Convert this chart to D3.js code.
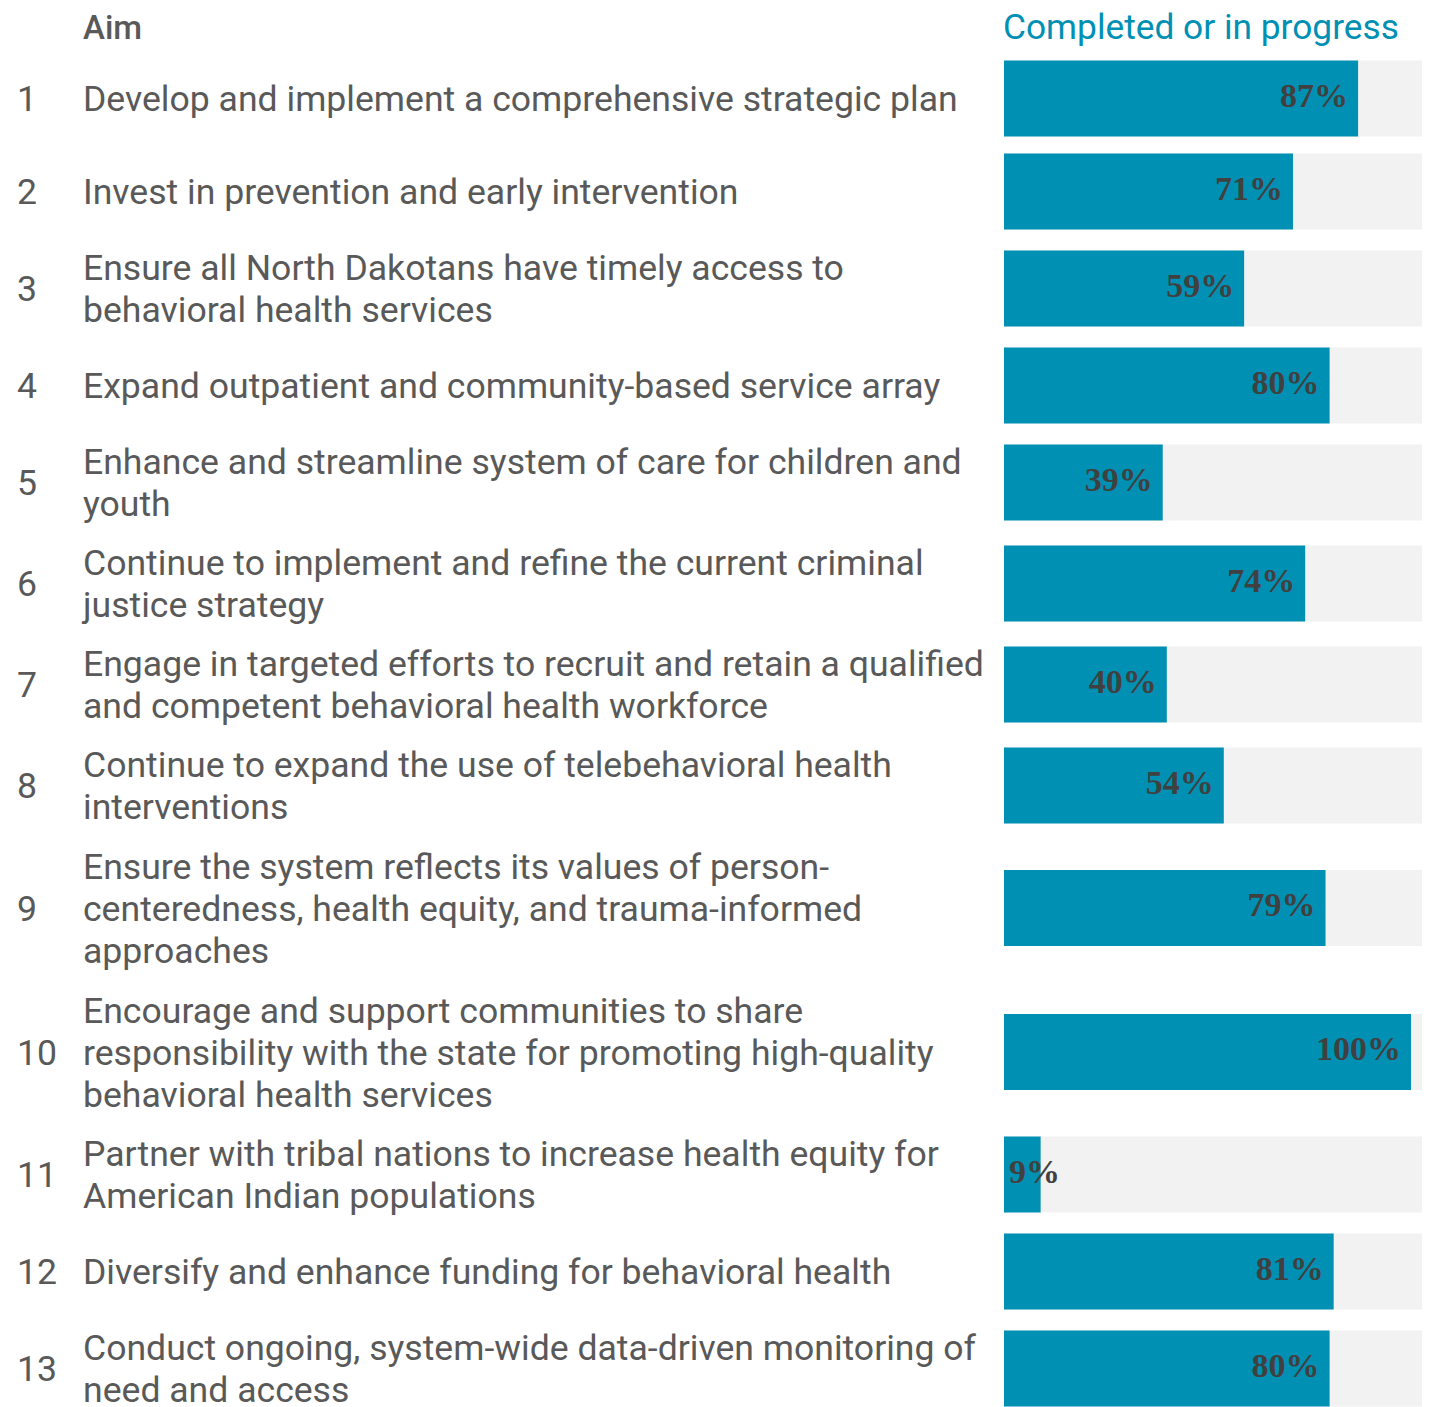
<!DOCTYPE html>
<html>
<head>
<meta charset="utf-8">
<script src="https://cdn.jsdelivr.net/npm/d3@7"></script>
<style>
  body { margin: 0; background: #fff; }
  svg { display: block; }
</style>
</head>
<body>
<div id="chart-container"></div>
<script>
const width = 1431;
const height = 1407;

// ! data
const aimNumbers = ["1", "2", "3", "4", "5", "6", "7", "8", "9", "10", "11", "12", "13"];
const aimLines = [
  ["Develop and implement a comprehensive strategic plan"],
  ["Invest in prevention and early intervention"],
  ["Ensure all North Dakotans have timely access to", "behavioral health services"],
  ["Expand outpatient and community-based service array"],
  ["Enhance and streamline system of care for children and", "youth"],
  ["Continue to implement and refine the current criminal", "justice strategy"],
  ["Engage in targeted efforts to recruit and retain a qualified", "and competent behavioral health workforce"],
  ["Continue to expand the use of telebehavioral health", "interventions"],
  ["Ensure the system reflects its values of person-", "centeredness, health equity, and trauma-informed", "approaches"],
  ["Encourage and support communities to share", "responsibility with the state for promoting high-quality", "behavioral health services"],
  ["Partner with tribal nations to increase health equity for", "American Indian populations"],
  ["Diversify and enhance funding for behavioral health"],
  ["Conduct ongoing, system-wide data-driven monitoring of", "need and access"],
];
const completed = [87, 71, 59, 80, 39, 74, 40, 54, 79, 100, 9, 81, 80];

const textFont = "Roboto, 'Open Sans', sans-serif";
const labelFont = "'Liberation Serif', 'DejaVu Serif', serif";
const textColor = "#595959";
const teal = "#0090b4";

const lineHeight = 42;
const barHeight = 76;
const startY = 52;

// row height depends on how many lines the aim wraps into
const rowHeight = (n) => (n === 1 ? 93 : n === 2 ? 101 : 144);
const rows = [];
let cursor = startY;
aimLines.forEach((lines, i) => {
  const h = rowHeight(lines.length);
  rows.push({ num: aimNumbers[i], lines, value: completed[i], y: cursor + h / 2 });
  cursor += h;
});

const x = d3.scaleLinear().domain([0, 100]).range([1004, 1411]);
const bgRight = 1422;

const svg = d3
  .select("#chart-container")
  .append("svg")
  .attr("width", width)
  .attr("height", height);

// headers
svg.append("text")
  .attr("x", 83)
  .attr("y", 39)
  .attr("font-family", textFont)
  .attr("font-weight", 500)
  .attr("font-size", 33)
  .attr("fill", textColor)
  .text("Aim");

svg.append("text")
  .attr("x", 1003)
  .attr("y", 39)
  .attr("font-family", textFont)
  .attr("font-size", 35.3)
  .attr("fill", teal)
  .text("Completed or in progress");

const row = svg.selectAll(".row")
  .data(rows)
  .enter()
  .append("g")
  .attr("class", "row")
  .attr("transform", (d) => `translate(0,${d.y})`);

row.append("text")
  .attr("x", 17)
  .attr("y", 0)
  .attr("dy", "0.36em")
  .attr("font-family", textFont)
  .attr("font-size", 35.6)
  .attr("fill", textColor)
  .text((d) => d.num);

row.each(function (d) {
  const g = d3.select(this);
  const n = d.lines.length;
  g.selectAll(".aim-line")
    .data(d.lines)
    .enter()
    .append("text")
    .attr("class", "aim-line")
    .attr("x", 83)
    .attr("y", (l, i) => (i - (n - 1) / 2) * lineHeight)
    .attr("dy", "0.36em")
    .attr("font-family", textFont)
    .attr("font-size", 35.6)
    .attr("fill", textColor)
    .text((l) => l);
});

// background track
row.append("rect")
  .attr("x", x(0))
  .attr("y", -barHeight / 2)
  .attr("width", bgRight - x(0))
  .attr("height", barHeight)
  .attr("fill", "#f2f2f2");

// completed bar
row.append("rect")
  .attr("x", x(0))
  .attr("y", -barHeight / 2)
  .attr("width", (d) => x(d.value) - x(0))
  .attr("height", barHeight)
  .attr("fill", teal);

row.append("text")
  .attr("x", function (d) {
    return Math.max(x(d.value) - 10, x(0) + 56);
  })
  .attr("y", -3)
  .attr("dy", "0.33em")
  .attr("text-anchor", "end")
  .attr("font-family", labelFont)
  .attr("font-weight", "bold")
  .attr("font-size", 34)
  .attr("fill", "#404040")
  .text((d) => d.value + "%");
</script>
</body>
</html>
